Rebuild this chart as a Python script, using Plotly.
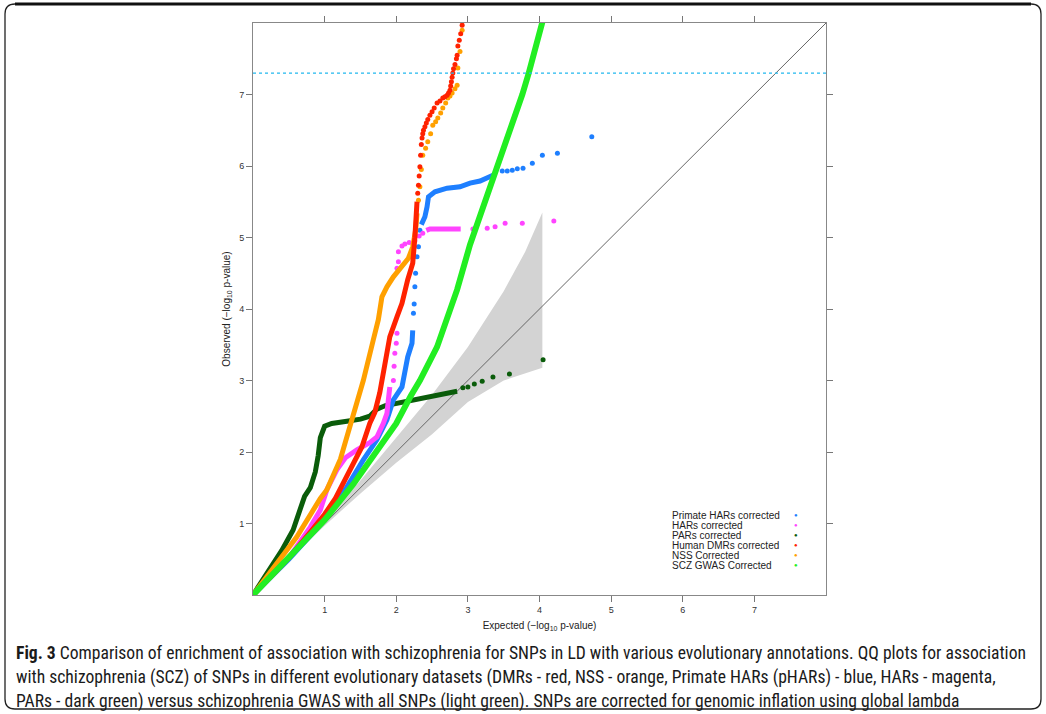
import plotly.graph_objects as go

# ---------------- data ----------------
# SCZ GWAS corrected (light green)
scz_x = [0, 0.5, 1.0, 1.4, 1.73, 2.0, 2.2, 2.33, 2.57, 2.71, 2.85, 3.03, 3.10, 3.25, 3.41, 3.6, 3.76, 3.85, 3.95, 4.05]
scz_y = [0, 0.52, 1.05, 1.55, 2.0, 2.4, 2.78, 3.0, 3.47, 3.87, 4.27, 4.9, 5.1, 5.5, 6.0, 6.5, 7.0, 7.3, 7.7, 8.05]

# PARs corrected (dark green)
par_x = [0, 0.2, 0.4, 0.56, 0.65, 0.72, 0.8, 0.87, 0.91, 0.94, 1.0, 1.1, 1.31, 1.5, 1.63, 1.73, 1.85, 2.01, 2.25, 2.47, 2.7, 2.85]
par_y = [0, 0.3, 0.62, 0.91, 1.2, 1.38, 1.5, 1.72, 1.95, 2.2, 2.36, 2.4, 2.43, 2.46, 2.5, 2.6, 2.65, 2.68, 2.72, 2.77, 2.82, 2.85]
par_tail_x = [2.93, 3.0, 3.09, 3.2, 3.35, 3.58, 4.05]
par_tail_y = [2.9, 2.91, 2.95, 2.99, 3.05, 3.09, 3.29]

# Primate HARs corrected (blue)
phar_x = [0, 0.5, 1.0, 1.2, 1.31, 1.54, 1.73, 1.87, 1.96, 2.08, 2.16, 2.22, 2.23]
phar_y = [0, 0.5, 1.05, 1.35, 1.51, 1.89, 2.17, 2.45, 2.73, 2.91, 3.33, 3.52, 3.7]
phar_mid_x = [2.24, 2.25, 2.26, 2.27, 2.29, 2.31, 2.33]
phar_mid_y = [3.94, 4.07, 4.31, 4.5, 4.73, 4.87, 5.1]
phar_up_x = [2.35, 2.40, 2.43, 2.45, 2.54, 2.71, 2.89, 3.03, 3.17, 3.28, 3.35]
phar_up_y = [5.18, 5.29, 5.43, 5.57, 5.64, 5.69, 5.71, 5.76, 5.79, 5.83, 5.87]
phar_tail_x = [3.48, 3.55, 3.62, 3.69, 3.77, 3.9, 4.04, 4.25, 4.73]
phar_tail_y = [5.93, 5.93, 5.94, 5.96, 5.97, 6.04, 6.15, 6.18, 6.41]

# HARs corrected (magenta)
har_x = [0, 0.5, 0.8, 0.94, 1.03, 1.17, 1.29, 1.45, 1.63, 1.73, 1.82, 1.87, 1.89, 1.91]
har_y = [0, 0.52, 0.95, 1.19, 1.47, 1.75, 1.92, 2.03, 2.13, 2.21, 2.4, 2.54, 2.73, 2.91]
har_mid_x = [1.96, 1.97, 1.98, 2.0, 2.01, 2.01, 2.03, 2.03, 2.08, 2.12, 2.18, 2.26, 2.32, 2.37]
har_mid_y = [3.0, 3.2, 3.38, 3.52, 3.66, 4.57, 4.66, 4.8, 4.88, 4.91, 4.93, 4.95, 5.02, 5.06]
har_up_x = [2.42, 2.47, 2.6, 2.75, 2.9]
har_up_y = [5.1, 5.12, 5.12, 5.12, 5.12]
har_tail_x = [3.07, 3.27, 3.38, 3.52, 3.76, 4.2]
har_tail_y = [5.12, 5.13, 5.15, 5.2, 5.2, 5.23]

# Human DMRs corrected (red)
dmr_x = [0, 0.5, 0.8, 1.0, 1.15, 1.26, 1.40, 1.52, 1.63, 1.70, 1.77, 1.84, 1.91, 2.01, 2.08, 2.16, 2.23, 2.26, 2.29]
dmr_y = [0, 0.52, 0.88, 1.13, 1.35, 1.57, 1.85, 2.07, 2.4, 2.55, 2.83, 3.24, 3.61, 3.89, 4.08, 4.41, 4.64, 5.0, 5.5]
dmr_tail_x = [2.30, 2.31, 2.32, 2.33, 2.34, 2.35, 2.36, 2.37, 2.38, 2.40, 2.42, 2.44, 2.47, 2.50, 2.53, 2.57, 2.61, 2.65, 2.68, 2.71, 2.73, 2.75, 2.76, 2.77, 2.78, 2.79, 2.80, 2.82, 2.84, 2.85, 2.86, 2.88, 2.90, 2.92]
dmr_tail_y = [5.62, 5.73, 5.86, 5.99, 6.15, 6.3, 6.39, 6.45, 6.5, 6.55, 6.6, 6.65, 6.71, 6.76, 6.81, 6.88, 6.91, 6.95, 6.97, 6.99, 7.02, 7.06, 7.12, 7.18, 7.24, 7.3, 7.36, 7.42, 7.5, 7.55, 7.68, 7.76, 7.85, 7.97]

# NSS Corrected (orange)
nss_x = [0, 0.3, 0.61, 0.94, 1.03, 1.22, 1.31, 1.43, 1.54, 1.68, 1.75, 1.80, 1.87, 1.96, 2.1, 2.17, 2.23, 2.27, 2.29]
nss_y = [0, 0.4, 0.81, 1.35, 1.47, 1.9, 2.21, 2.63, 3.0, 3.57, 3.85, 4.17, 4.31, 4.45, 4.64, 4.71, 4.87, 5.1, 5.34]
nss_tail_x = [2.31, 2.33, 2.35, 2.37, 2.41, 2.44, 2.48, 2.51, 2.55, 2.58, 2.62, 2.65, 2.69, 2.72, 2.75, 2.78, 2.82, 2.85, 2.86, 2.89, 2.92]
nss_tail_y = [5.52, 5.71, 5.95, 6.15, 6.25, 6.34, 6.45, 6.57, 6.62, 6.67, 6.74, 6.81, 6.88, 6.95, 6.98, 7.02, 7.08, 7.13, 7.37, 7.6, 7.9]

# 95% confidence band of the null distribution (grey)
band_x = [0, 1.0, 1.5, 2.0, 2.5, 3.0, 3.5, 3.8, 4.04]
band_upper = [0, 1.05, 1.6, 2.2, 2.8, 3.47, 4.25, 4.8, 5.35]
band_lower = [0, 0.97, 1.42, 1.85, 2.25, 2.7, 3.0, 3.1, 3.18]

# reference lines
identity_line = [0, 8]
gwas_threshold = 7.3

axis_range = [0, 8]
tick_values = [1, 2, 3, 4, 5, 6, 7]

legend_labels = ["Primate HARs corrected", "HARs corrected", "PARs corrected",
                 "Human DMRs corrected", "NSS Corrected", "SCZ GWAS Corrected"]

caption_lines = [
    "<b>Fig. 3</b> Comparison of enrichment of association with schizophrenia for SNPs in LD with various evolutionary annotations. QQ plots for association",
    "with schizophrenia (SCZ) of SNPs in different evolutionary datasets (DMRs - red, NSS - orange, Primate HARs (pHARs) - blue, HARs - magenta,",
    "PARs - dark green) versus schizophrenia GWAS with all SNPs (light green). SNPs are corrected for genomic inflation using global lambda",
]

# ---------------- styling ----------------
C_BLUE = "#1E7FFF"
C_MAG = "#FF44FF"
C_DKG = "#0A5C0A"
C_RED = "#FF2200"
C_ORA = "#FFA000"
C_GRN = "#22EE22"
legend_colors = [C_BLUE, C_MAG, C_DKG, C_RED, C_ORA, C_GRN]

W, H = 1046, 714
L, R, T, B = 253, 826, 23, 595


def px(x):
    return (x - L) / (R - L)


def py(y):
    return (B - y) / (B - T)


fig = go.Figure()

# grey band
fig.add_trace(go.Scatter(
    x=band_x + band_x[::-1], y=band_upper + band_lower[::-1],
    mode="lines", fill="toself", fillcolor="#D3D3D3",
    line=dict(width=0, color="#D3D3D3"), hoverinfo="skip", showlegend=False))

# identity line
fig.add_trace(go.Scatter(x=identity_line, y=identity_line, mode="lines",
                         line=dict(color="#666666", width=1), showlegend=False))


def dense(x, y, color, w=5):
    fig.add_trace(go.Scatter(x=x, y=y, mode="lines",
                             line=dict(color=color, width=w), showlegend=False))


def dots(x, y, color, s=5):
    fig.add_trace(go.Scatter(x=x, y=y, mode="markers",
                             marker=dict(color=color, size=s, line=dict(width=0)),
                             showlegend=False))


dense(par_x, par_y, C_DKG)
dots(par_tail_x, par_tail_y, C_DKG)

dense(phar_x, phar_y, C_BLUE)
dots(phar_mid_x, phar_mid_y, C_BLUE)
dense(phar_up_x, phar_up_y, C_BLUE)
dots(phar_tail_x, phar_tail_y, C_BLUE)

dense(har_x, har_y, C_MAG)
dots(har_mid_x, har_mid_y, C_MAG)
dense(har_up_x, har_up_y, C_MAG)
dots(har_tail_x, har_tail_y, C_MAG)

dense(nss_x, nss_y, C_ORA)
dots(nss_tail_x, nss_tail_y, C_ORA)

dense(dmr_x, dmr_y, C_RED)
dots(dmr_tail_x, dmr_tail_y, C_RED)

dense(scz_x, scz_y, C_GRN, w=6)

# genome-wide significance line
fig.add_shape(type="line", xref="paper", yref="y", x0=0, x1=1,
              y0=gwas_threshold, y1=gwas_threshold,
              line=dict(color="#22B8EE", width=1.3, dash="dot"))

axis_common = dict(range=axis_range, tickvals=tick_values, ticks="outside", ticklen=6,
                   tickcolor="#777777", showline=True, linecolor="#888888", linewidth=1,
                   mirror="ticks", showgrid=False, zeroline=False,
                   tickfont=dict(size=9, color="#333333"))

fig.update_xaxes(**axis_common,
                 title=dict(text="Expected (\u2212log<sub>10</sub> p-value)",
                            font=dict(size=10, color="#222222"), standoff=8))
fig.update_yaxes(**axis_common, tickangle=0,
                 title=dict(text="Observed (\u2212log<sub>10</sub> p-value)",
                            font=dict(size=10, color="#222222"), standoff=6))

annotations = []
# legend
leg_y0 = 515
for i, (lab, col) in enumerate(zip(legend_labels, legend_colors)):
    yy = py(leg_y0 + i * 10)
    annotations.append(dict(x=px(670), y=yy, xref="paper", yref="paper", text=lab,
                            showarrow=False, xanchor="left", yanchor="middle",
                            font=dict(size=10, color="#222222")))
    annotations.append(dict(x=px(796), y=yy, xref="paper", yref="paper", text="\u25CF",
                            showarrow=False, xanchor="center", yanchor="middle",
                            font=dict(size=6, color=col)))

# caption
for i, line in enumerate(caption_lines):
    annotations.append(dict(x=px(14), y=py(653 + i * 24), xref="paper", yref="paper",
                            text=line, showarrow=False, xanchor="left", yanchor="middle",
                            font=dict(size=17.6, color="#1a1a1a",
                                      family="Liberation Sans Narrow, Roboto Condensed, DejaVu Sans Condensed, Arial Narrow, sans-serif")))

# outer rounded frame
x0, x1, y0, y1, r = 5, 1041, 4, 709, 10
path = (f"M {px(x0 + r)} {py(y0)} L {px(x1 - r)} {py(y0)} "
        f"Q {px(x1)} {py(y0)} {px(x1)} {py(y0 + r)} "
        f"L {px(x1)} {py(y1 - r)} Q {px(x1)} {py(y1)} {px(x1 - r)} {py(y1)} "
        f"L {px(x0 + r)} {py(y1)} Q {px(x0)} {py(y1)} {px(x0)} {py(y1 - r)} "
        f"L {px(x0)} {py(y0 + r)} Q {px(x0)} {py(y0)} {px(x0 + r)} {py(y0)} Z")
fig.add_shape(type="path", xref="paper", yref="paper", path=path,
              line=dict(color="#222222", width=1.3), layer="above")
fig.add_shape(type="line", xref="paper", yref="paper", x0=px(x0 + r), x1=px(x1 - r),
              y0=py(y0), y1=py(y0), line=dict(color="#111111", width=3), layer="above")

fig.update_layout(
    width=W, height=H,
    margin=dict(l=L, r=W - R, t=T, b=H - B),
    paper_bgcolor="white", plot_bgcolor="white",
    font=dict(family="Arial, Liberation Sans, sans-serif"),
    showlegend=False,
    annotations=annotations,
)

fig.write_html("out.html")
